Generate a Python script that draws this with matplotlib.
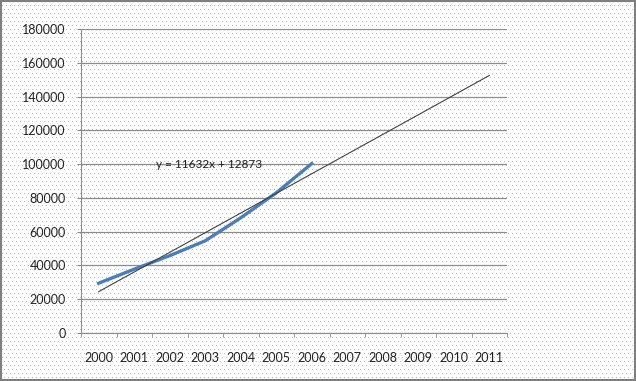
import numpy as np
import matplotlib.pyplot as plt

years = ['2000', '2001', '2002', '2003', '2004', '2005', '2006',
         '2007', '2008', '2009', '2010', '2011']
values = [29500, 37800, 45800, 54600, 68200, 83000, 100300]
# trendline shown on the chart: y = 11632x + 12873
slope = 11632
intercept = 12873
y_ticks = [0, 20000, 40000, 60000, 80000, 100000, 120000, 140000, 160000, 180000]

plt.rcParams['font.family'] = ['Lato', 'DejaVu Sans']

fig = plt.figure(figsize=(6.36, 3.81), dpi=100)
fig.patch.set_facecolor('white')

# dotted background pattern like the Excel fill
h, w = 381, 636
bg = np.ones((h, w, 3))
yy, xx = np.mgrid[0:h, 0:w]
dots = (yy % 4 == 1) & (xx % 4 == ((yy // 4) % 2) * 2)
bg[dots] = 0.75
fig.figimage(bg, xo=0, yo=0, zorder=-1)

ax = fig.add_axes([81 / 636, 48 / 381, 426 / 636, 304 / 381], zorder=1)
ax.patch.set_alpha(0)

x_all = np.arange(len(years))
ax.plot(np.arange(len(values)), values, color='#4A7EBB', lw=2.4, zorder=3)

x_tr = np.array([0, len(years) - 1])
ax.plot(x_tr, slope * (x_tr + 1) + intercept, color='#404040', lw=0.8, zorder=4)

ax.text(0.175, 0.555, 'y = 11632x + 12873', transform=ax.transAxes,
        fontsize=8.5, color='#202020', va='center')

ax.set_xlim(-0.5, len(years) - 0.5)
ax.set_ylim(0, 180000)
ax.set_yticks(y_ticks)
ax.set_yticklabels([str(v) for v in y_ticks])
ax.set_xticks(x_all)
ax.set_xticklabels(years)
ax.set_xticks(np.arange(-0.5, len(years), 1), minor=True)
ax.tick_params(axis='x', which='major', length=0, pad=14, labelsize=9, colors='#222222')
ax.tick_params(axis='x', which='minor', length=3, color='#888888', direction='out')
ax.tick_params(axis='y', length=3, color='#888888', pad=8, labelsize=9, labelcolor='#222222')

ax.grid(axis='y', color='#8c8c8c', lw=0.9)
ax.set_axisbelow(True)
for s in ['top', 'right']:
    ax.spines[s].set_visible(False)
ax.spines['left'].set_color('#8c8c8c')
ax.spines['bottom'].set_color('#8c8c8c')

# outer chart border
border = plt.Rectangle((0.001, 0.002), 0.997, 0.995, transform=fig.transFigure,
                       fill=False, edgecolor='#7f7f7f', lw=1.5)
fig.patches.append(border)

fig.savefig('out.png', dpi=100)
